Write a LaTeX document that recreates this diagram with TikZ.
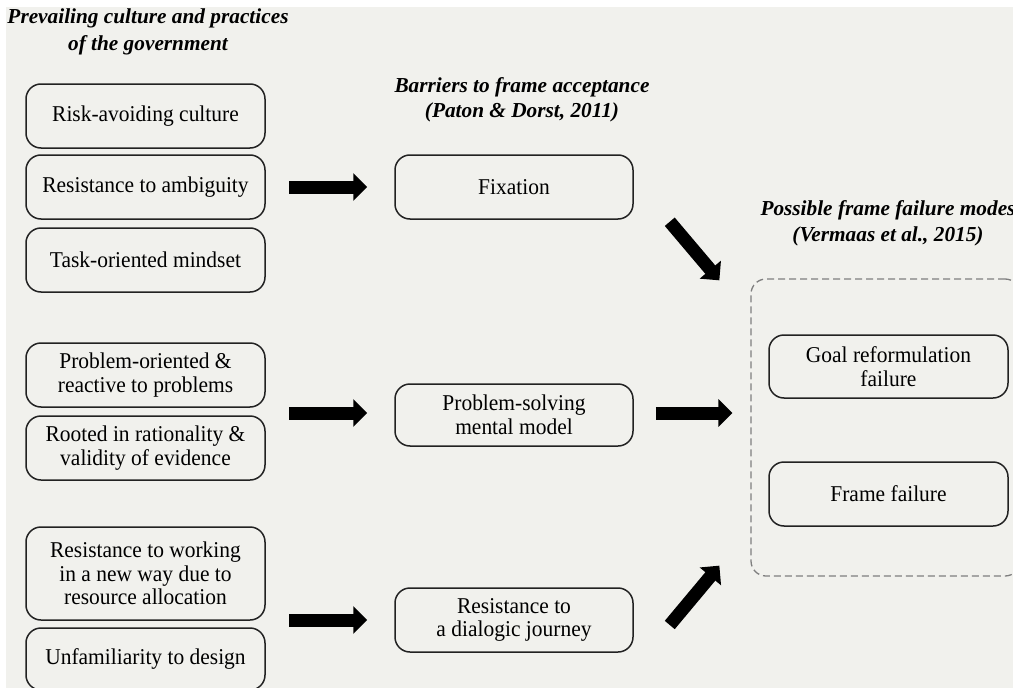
\documentclass[tikz,border=0pt]{standalone}
\usepackage{fontspec}
\setmainfont{Liberation Serif}
\newfontfamily\boxfont[FakeStretch=0.95]{Liberation Serif}
\usetikzlibrary{arrows.meta,calc}
\definecolor{bg}{HTML}{F1F1ED}
\definecolor{boxline}{HTML}{222222}
\definecolor{dashgray}{HTML}{7F7F7F}
\tikzset{
  box/.style={draw=boxline, line width=1.5pt, rounded corners=15pt, minimum width=239pt,
    inner sep=0pt, align=center, font=\boxfont\fontsize{22.6}{23.5}\selectfont},
  ttl/.style={align=center, font=\bfseries\itshape\fontsize{21.3}{26}\selectfont},
  blockarrow/.style={line width=13pt, -{Triangle[length=14pt,width=27pt]}, black},
  groupbox/.style={draw=dashgray, line width=1.3pt, dash pattern=on 7pt off 4pt,
    rounded corners=15pt, minimum width=269pt, minimum height=297pt, inner sep=0pt}
}
\begin{document}
\begin{tikzpicture}[x=1pt,y=-1pt]
\useasboundingbox (0,0) rectangle (1013,688);
\clip (0,0) rectangle (1013,688);
\fill[white] (0,0) rectangle (1013,688);
\fill[bg] (6,7) rectangle (1013,688);

% titles
\node[ttl, font=\bfseries\itshape\fontsize{21.3}{27}\selectfont] (t1) at (148,31.5) {Prevailing culture and practices\\of the government};
\node[ttl, font=\bfseries\itshape\fontsize{21.3}{24.5}\selectfont] (t2) at (522,100) {Barriers to frame acceptance\\(Paton \& Dorst, 2011)};
\node[ttl] (t3) at (888,223) {Possible frame failure modes\\(Vermaas et al., 2015)};

% left column
\node[box, minimum height=64pt] (a1) at (145.5,116) {Risk-avoiding culture};
\node[box, minimum height=64pt] (a2) at (145.5,187) {Resistance to ambiguity};
\node[box, minimum height=64pt] (a3) at (145.5,260) {Task-oriented mindset};
\node[box, minimum height=64pt] (b1) at (145.5,375) {Problem-oriented \&\\reactive to problems};
\node[box, minimum height=64pt] (b2) at (145.5,448) {Rooted in rationality \&\\validity of evidence};
\node[box, minimum height=93pt] (c1) at (145.5,573.5) {Resistance to working\\in a new way due to\\resource allocation};
\node[box, minimum height=62pt] (c2) at (145.5,659) {Unfamiliarity to design};

% middle column
\node[box, minimum width=238pt, minimum height=64pt] (fix) at (514,187) {Fixation};
\node[box, minimum width=238pt, minimum height=62pt] (psm) at (514,415) {Problem-solving\\mental model};
\node[box, minimum width=238pt, minimum height=64pt] (dia) at (514,620) {Resistance to\\a dialogic journey};

% right group
\node[groupbox] (group) at (885.5,427.5) {};
\node[box, minimum height=63pt] (goal) at (888.5,366.5) {Goal reformulation\\failure};
\node[box, minimum height=64pt] (ff) at (888.5,494) {Frame failure};

% arrows
\draw[blockarrow] ($(fix.west)+(-105,0)$) -- ($(fix.west)+(-27,0)$);
\draw[blockarrow] ($(psm.west)+(-105,-2)$) -- ($(psm.west)+(-27,-2)$);
\draw[blockarrow] ($(dia.west)+(-105,0)$) -- ($(dia.west)+(-27,0)$);
\draw[blockarrow] ($(fix.south east)+(36,2)$) -- ($(group.north west)+(-31,2)$);
\draw[blockarrow] ($(psm.east)+(22,-2)$) -- ($(psm.east -| group.west)+(-18,-2)$);
\draw[blockarrow] ($(dia.east)+(36,5)$) -- ($(group.south west)+(-31,-11)$);
\end{tikzpicture}
\end{document}
